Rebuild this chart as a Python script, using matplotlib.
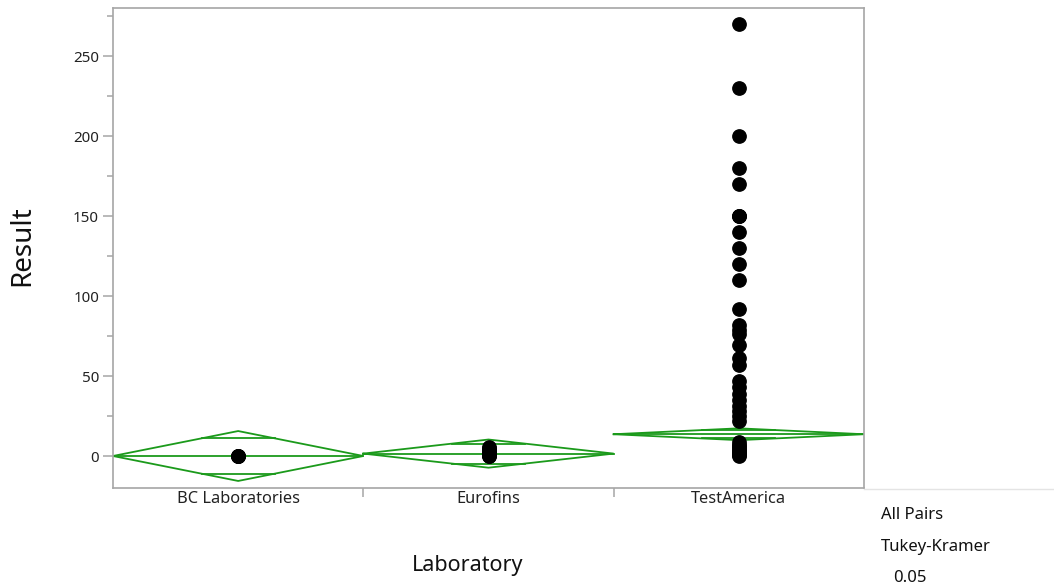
import numpy as np
import matplotlib
matplotlib.use("Agg")
import matplotlib.pyplot as plt
from matplotlib.lines import Line2D

plt.rcParams['font.family'] = ['Noto Sans', 'DejaVu Sans']

# ---- data ----
labs = ["BC Laboratories", "Eurofins", "TestAmerica"]
bc_values = [0, 0, 0, 0]
eurofins_values = [0, 0.3, 0.6, 1, 1.5, 2, 3, 4, 5, 5.6]
testamerica_values = [270, 230, 200, 180, 170, 150, 150, 150, 140, 130, 120, 110,
                      92, 82, 79, 76.5, 69.5, 61, 57, 47, 43, 39, 35, 31, 28, 25, 22,
                      8.5, 7, 6, 5, 4, 3, 2, 1, 0.5, 0]
group_means = [0.0, 1.5, 13.6]
group_ci_half = [15.6, 8.8, 3.7]
y_ticks = [0, 50, 100, 150, 200, 250]
note_lines = ["All Pairs", "Tukey-Kramer", "0.05"]

W, H = 1054, 586
fig = plt.figure(figsize=(W / 100, H / 100), dpi=100)
L, R, T, B = 113, 864, 8, 488
ax = fig.add_axes([L / W, 1 - B / H, (R - L) / W, (B - T) / H])

green = '#1b9a1b'
spine_c = '#a6a6a6'

points = [bc_values, eurofins_values, testamerica_values]
for i, (m, ci) in enumerate(zip(group_means, group_ci_half)):
    xs = [i, i + 0.5, i + 1, i + 0.5, i]
    ys = [m, m + ci, m, m - ci, m]
    ax.plot(xs, ys, color=green, lw=1.3, zorder=2, solid_joinstyle='miter')
    ax.plot([i, i + 1], [m, m], color=green, lw=1.3, zorder=2)
    ov = ci * np.sqrt(2) / 2
    hw = 0.5 * (1 - ov / ci)
    for s in (1, -1):
        ax.plot([i + 0.5 - hw, i + 0.5 + hw], [m + s * ov, m + s * ov],
                color=green, lw=1.3, zorder=2)
    vals = points[i]
    ax.plot([i + 0.5] * len(vals), vals, 'o', color='black', ms=9.6,
            mec='black', zorder=3, clip_on=False)

ax.set_xlim(0, 3)
ax.set_ylim(-20, 280)
ax.set_yticks(y_ticks)
ax.set_yticks(np.arange(25, 280, 50), minor=True)
ax.set_xticks([0.5, 1.5, 2.5])
ax.set_xticklabels(labs)
ax.set_xticks([1, 2], minor=True)

for sp in ax.spines.values():
    sp.set_color(spine_c)
    sp.set_linewidth(1.2)

ax.tick_params(axis='y', which='major', length=7, width=1.1, color=spine_c,
               labelsize=10.9, pad=3, labelcolor='#222222')
ax.tick_params(axis='y', which='minor', length=4, width=1.1, color=spine_c)
ax.tick_params(axis='x', which='major', length=0, labelsize=11.8, pad=2.5,
               labelcolor='#222222')
ax.tick_params(axis='x', which='minor', length=6.5, width=1.1, color=spine_c)

fig.text(22 / W, 1 - 246 / H, "Result", rotation=90, ha='center', va='center',
         fontsize=20, color='#111111')
fig.text(468 / W, 1 - 566 / H, "Laboratory", ha='center', va='center',
         fontsize=15.5, color='#111111')

fig.add_artist(Line2D([R / W, 1], [1 - (B + 1) / H, 1 - (B + 1) / H],
                      color='#e4e4e4', lw=1.0))

note_pos = [(881, 515), (881, 547), (893, 578)]
for txt, (x, y) in zip(note_lines, note_pos):
    fig.text(x / W, 1 - y / H, txt, ha='left', va='center', fontsize=12,
             color='#111111')

fig.savefig("out.png", dpi=100)
